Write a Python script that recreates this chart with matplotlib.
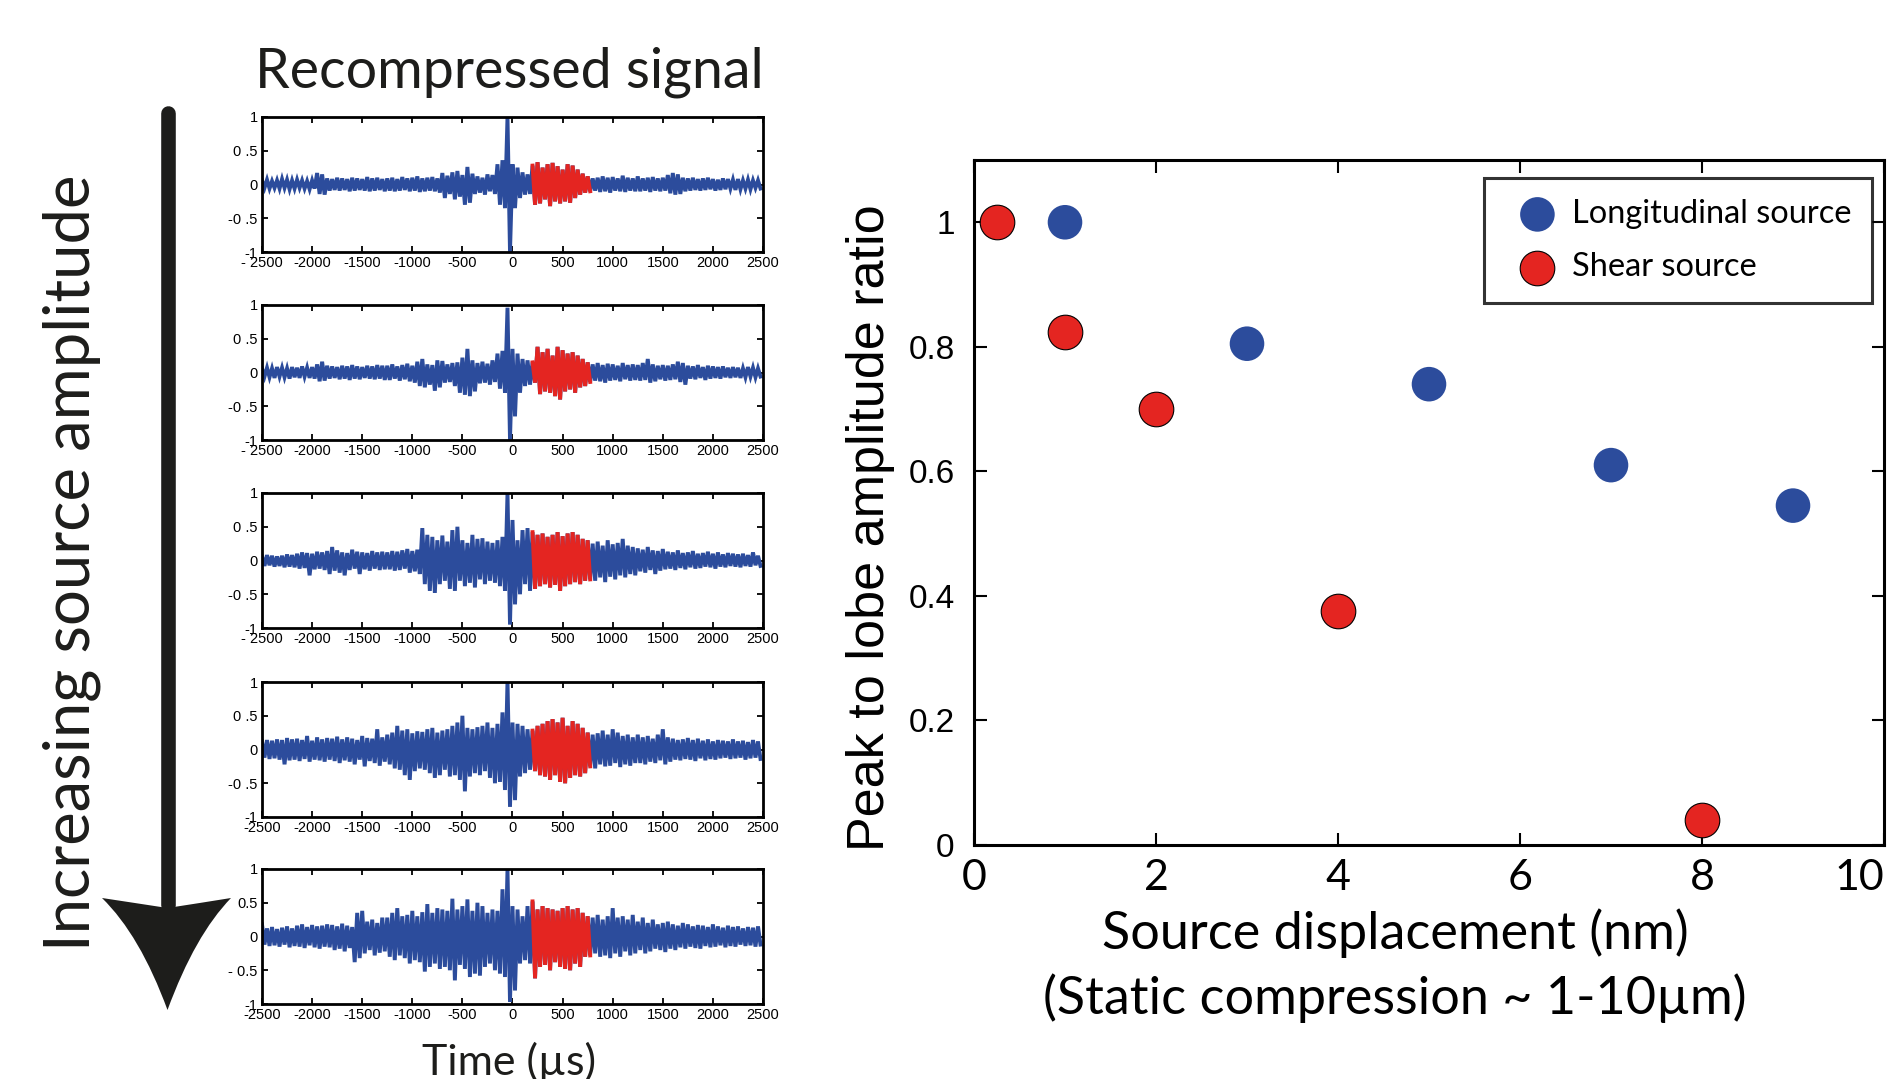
import numpy as np
import matplotlib
matplotlib.use('Agg')
import matplotlib.pyplot as plt
from matplotlib.path import Path
from matplotlib.patches import PathPatch
from matplotlib.lines import Line2D

# ---------------------------------------------------------------
# Recompressed traces: positive / negative peaks every 50 us
# (hundredths of normalised amplitude), from -2500 us to 2450 us
# ---------------------------------------------------------------
t_start = -2500
t_step = 50
lobe_window = (200, 800)   # side lobe window shown in red (us)

trace1_upper = [6, 7, 5, 6, 8, 7, 6, 7, 6, 5, 6, 17, 15, 9, 8, 10, 9, 8, 10, 9, 8, 11, 9, 10, 8,
                9, 10, 8, 11, 9, 10, 12, 9, 10, 11, 9, 17, 13, 18, 20, 14, 26, 16, 12, 10, 15, 14, 30, 36, 100,
                30, 25, 18, 15, 28, 33, 25, 30, 32, 27, 22, 30, 28, 22, 16, 12, 9, 10, 12, 10, 11, 9, 13, 10, 9,
                12, 9, 10, 11, 9, 10, 14, 17, 15, 10, 9, 10, 8, 9, 10, 8, 7, 9, 8, 7, 8, 6, 7, 6, 6]
trace1_lower = [-5, -6, -5, -6, -5, -7, -6, -5, -6, -7, -6, -14, -15, -9, -8, -9, -8, -10, -9, -8, -9, -10, -9, -8, -10,
                -9, -10, -9, -8, -10, -9, -11, -10, -9, -10, -12, -20, -14, -22, -18, -30, -27, -14, -12, -15, -10, -14, -30, -35, -100,
                -35, -20, -15, -14, -30, -28, -22, -32, -25, -28, -25, -27, -20, -15, -12, -10, -9, -11, -10, -12, -9, -10, -11, -9, -10,
                -10, -9, -11, -9, -10, -9, -13, -15, -14, -10, -9, -8, -9, -8, -7, -9, -8, -7, -6, -8, -7, -6, -7, -5, -6]

trace2_upper = [6, 7, 6, 8, 7, 6, 8, 7, 9, 7, 8, 12, 16, 10, 9, 8, 10, 9, 11, 9, 8, 10, 9, 11, 10,
                10, 12, 9, 11, 13, 10, 16, 20, 12, 11, 18, 17, 12, 14, 15, 22, 35, 18, 14, 16, 13, 18, 28, 32, 96,
                35, 28, 20, 18, 15, 38, 30, 35, 25, 38, 33, 28, 30, 25, 20, 15, 12, 14, 11, 13, 12, 10, 14, 11, 12,
                11, 14, 20, 12, 10, 11, 10, 12, 16, 14, 10, 9, 11, 8, 10, 9, 8, 9, 7, 8, 7, 6, 8, 7, 6]
trace2_lower = [-6, -7, -8, -6, -7, -9, -7, -8, -6, -8, -9, -13, -12, -9, -8, -10, -9, -11, -9, -10, -8, -9, -10, -9, -11,
                -11, -9, -12, -10, -13, -15, -20, -22, -18, -27, -22, -15, -14, -20, -30, -33, -35, -28, -16, -15, -18, -14, -24, -30, -100,
                -65, -30, -20, -18, -15, -32, -28, -30, -35, -40, -28, -25, -30, -22, -20, -14, -12, -13, -15, -12, -11, -13, -10, -12, -11,
                -12, -11, -15, -13, -10, -12, -11, -10, -14, -18, -9, -10, -8, -11, -9, -8, -9, -7, -8, -7, -8, -7, -6, -7, -6]

trace3_upper = [6, 8, 7, 6, 7, 9, 8, 10, 12, 11, 10, 13, 12, 14, 20, 15, 12, 11, 16, 13, 12, 11, 14, 12, 13,
                12, 14, 13, 15, 17, 14, 16, 48, 38, 35, 30, 37, 28, 45, 50, 30, 26, 38, 32, 33, 28, 26, 30, 35, 100,
                60, 30, 45, 48, 42, 38, 40, 35, 38, 42, 36, 40, 42, 38, 32, 30, 25, 28, 22, 30, 24, 26, 32, 22, 20,
                18, 16, 20, 15, 14, 17, 13, 12, 15, 11, 12, 14, 10, 11, 13, 10, 12, 9, 11, 10, 9, 10, 8, 12, 7]
trace3_lower = [-8, -7, -9, -8, -10, -9, -10, -12, -11, -22, -13, -12, -14, -20, -15, -18, -22, -14, -12, -20, -13, -15, -12, -14, -13,
                -13, -15, -14, -12, -18, -16, -20, -35, -45, -48, -35, -30, -42, -45, -30, -38, -33, -40, -28, -35, -30, -33, -38, -45, -95,
                -65, -50, -35, -45, -42, -38, -35, -40, -36, -45, -38, -35, -32, -35, -30, -28, -30, -25, -32, -24, -28, -22, -25, -20, -22,
                -16, -18, -14, -20, -15, -13, -12, -14, -11, -13, -10, -12, -11, -9, -10, -12, -9, -10, -8, -9, -10, -8, -9, -7, -8]

trace4_upper = [12, 14, 13, 15, 14, 17, 15, 16, 14, 20, 13, 18, 15, 17, 16, 19, 15, 18, 16, 14, 20, 17, 16, 30, 18,
                22, 25, 35, 28, 30, 24, 27, 26, 30, 32, 25, 28, 30, 35, 40, 50, 32, 30, 33, 35, 40, 32, 38, 55, 102,
                40, 38, 35, 30, 28, 35, 38, 42, 45, 40, 47, 35, 42, 38, 32, 25, 22, 24, 28, 22, 30, 25, 20, 22, 18,
                22, 18, 20, 16, 22, 30, 18, 16, 14, 15, 17, 14, 16, 13, 15, 12, 14, 13, 12, 15, 12, 13, 11, 14, 12]
trace4_lower = [-12, -14, -13, -15, -22, -16, -15, -17, -14, -18, -15, -16, -18, -15, -17, -20, -16, -18, -22, -15, -25, -17, -20, -24, -18,
                -22, -28, -30, -38, -45, -32, -28, -30, -35, -42, -38, -30, -40, -38, -45, -62, -40, -35, -38, -32, -42, -50, -48, -60, -85,
                -75, -40, -35, -30, -32, -38, -40, -45, -38, -48, -50, -42, -38, -40, -35, -25, -28, -22, -25, -24, -20, -26, -22, -24, -20,
                -20, -22, -18, -20, -16, -22, -18, -15, -16, -14, -15, -17, -13, -16, -14, -15, -13, -12, -14, -13, -12, -15, -13, -12, -14]

trace5_upper = [18, 12, 14, 11, 13, 15, 12, 16, 18, 14, 17, 15, 16, 18, 17, 15, 19, 16, 14, 35, 38, 22, 25, 20, 28,
                28, 35, 42, 30, 32, 38, 30, 36, 48, 35, 42, 40, 38, 56, 40, 45, 55, 38, 50, 45, 35, 40, 38, 70, 100,
                45, 40, 30, 45, 52, 40, 45, 42, 40, 38, 42, 45, 40, 42, 35, 30, 28, 32, 25, 30, 42, 28, 30, 25, 32,
                22, 28, 20, 25, 18, 20, 22, 18, 16, 20, 18, 15, 17, 16, 14, 18, 15, 13, 16, 14, 15, 12, 14, 13, 15]
trace5_lower = [-12, -14, -13, -15, -12, -16, -14, -15, -17, -13, -16, -18, -15, -16, -20, -18, -22, -17, -38, -32, -25, -20, -28, -24, -22,
                -30, -35, -28, -32, -40, -35, -38, -52, -45, -40, -48, -45, -50, -65, -42, -48, -60, -55, -58, -45, -40, -50, -55, -60, -97,
                -80, -40, -35, -40, -62, -45, -42, -50, -38, -45, -48, -50, -40, -45, -30, -28, -25, -30, -28, -32, -25, -30, -22, -28, -25,
                -20, -25, -22, -18, -20, -23, -18, -20, -16, -18, -15, -17, -18, -14, -16, -15, -13, -16, -14, -15, -12, -14, -13, -15, -12]

traces = [(trace1_upper, trace1_lower), (trace2_upper, trace2_lower),
          (trace3_upper, trace3_lower), (trace4_upper, trace4_lower),
          (trace5_upper, trace5_lower)]

time_ticks = [-2500, -2000, -1500, -1000, -500, 0, 500, 1000, 1500, 2000, 2500]
time_ticklabels = [["- 2500"] + [str(v) for v in time_ticks[1:]]] * 3 + \
                  [[str(v) for v in time_ticks]] * 2
amp_ticks = [-1, -0.5, 0, 0.5, 1]
amp_ticklabels = [["-1", "-0 .5", "0", "0 .5", "1"]] * 4 + [["-1", "- 0.5", "0", "0.5", "1"]]

# ---------------------------------------------------------------
# Peak to lobe amplitude ratio vs source displacement
# ---------------------------------------------------------------
long_disp = [1, 3, 5, 7, 9]
long_ratio = [1.0, 0.805, 0.74, 0.61, 0.545]
shear_disp = [0.25, 1, 2, 4, 8]
shear_ratio = [1.0, 0.823, 0.70, 0.375, 0.04]

BLUE = '#2c4c9c'
RED = '#e42521'
INK = '#1d1d1b'
arial = ['Liberation Sans', 'DejaVu Sans']
myriad = ['Lato', 'DejaVu Sans']

W, H = 1890, 1079
fig = plt.figure(figsize=(W / 100, H / 100), dpi=100)


def fig_box(left, top, right, bottom):
    """pixel box -> figure fraction [x0, y0, w, h]"""
    return [left / W, 1 - bottom / H, (right - left) / W, (bottom - top) / H]


def draw_trace(ax, t_top, up, lo, color):
    """zig-zag through the positive and negative peaks"""
    t = np.ravel(np.column_stack([t_top, t_top + t_step / 2]))
    y = np.ravel(np.column_stack([up, lo]))
    ax.plot(t, y, color=color, lw=2.8, solid_joinstyle='miter')


# overlay in pixel coordinates for the arrow and free text
over = fig.add_axes([0, 0, 1, 1], zorder=-1)
over.set_xlim(0, W)
over.set_ylim(H, 0)
over.axis('off')

##########
# Trace panels
trace_tops = [117, 305, 493, 682, 869]
for k, (up, lo) in enumerate(traces):
    ax = fig.add_axes(fig_box(262, trace_tops[k], 763, trace_tops[k] + 135))
    up = np.array(up) / 100.0
    lo = np.array(lo) / 100.0
    t_top = t_start + t_step * np.arange(len(up))
    draw_trace(ax, t_top, up, lo, BLUE)
    sel = (t_top >= lobe_window[0]) & (t_top < lobe_window[1])
    draw_trace(ax, t_top[sel], up[sel], lo[sel], RED)

    ax.set_xlim(-2500, 2500)
    ax.set_ylim(-1, 1)
    ax.set_xticks(time_ticks)
    ax.set_xticklabels(time_ticklabels[k], family=arial, fontsize=10.5)
    ax.set_yticks(amp_ticks)
    ax.set_yticklabels(amp_ticklabels[k], family=arial, fontsize=10.5)
    ax.tick_params(direction='in', length=4, width=1.3, top=True, right=True, pad=3)
    for s in ax.spines.values():
        s.set_linewidth(2.0)

##########
# Scatter panel
ax = fig.add_axes(fig_box(974, 160, 1884, 845))
ax.scatter(long_disp, long_ratio, s=620, color=BLUE, edgecolor='none',
           zorder=3, label='Longitudinal source')
ax.scatter(shear_disp, shear_ratio, s=620, color=RED, edgecolor='k',
           linewidth=0.8, zorder=3, label='Shear source')
ax.set_xlim(0, 10)
ax.set_ylim(0, 1.1)
ax.set_xticks([0, 2, 4, 6, 8, 10])
ax.set_xticklabels(['0', '2', '4', '6', '8', '10'], family=myriad, fontsize=31)
ax.get_xticklabels()[-1].set_horizontalalignment('right')
ax.set_yticks([0, 0.2, 0.4, 0.6, 0.8, 1.0])
ax.set_yticklabels(['0', '0.2', '0.4', '0.6', '0.8', '1'], family=arial, fontsize=24)
ax.tick_params(direction='in', length=9, width=1.5, top=True, right=True)
ax.tick_params(axis='y', pad=14)
ax.tick_params(axis='x', pad=10)
for s in ax.spines.values():
    s.set_linewidth(2.2)
ax.set_ylabel('Peak to lobe amplitude ratio', family=arial, fontsize=37.5, va='center')
ax.yaxis.set_label_coords(-0.114, 0.463)
ax.set_xlabel('Source displacement (nm)\n(Static compression ~ 1-10\u00b5m)',
              family=myriad, fontsize=37.5, linespacing=1.38, va='center')
ax.xaxis.set_label_coords(0.4626, -0.1766)

leg = ax.legend(loc='upper right', bbox_to_anchor=(0.987, 0.974), frameon=True,
                fancybox=False, prop={'family': myriad, 'size': 23.4},
                borderpad=0.65, labelspacing=0.72, handletextpad=0.05,
                borderaxespad=0, markerscale=1.0)
leg.get_frame().set_edgecolor('k')
leg.get_frame().set_linewidth(2.2)

##########
# Arrow and free text
over.add_line(Line2D([167.5, 167.5], [113, 905], lw=10.5, color=INK,
                     solid_capstyle='round'))
head = Path([(102, 898), (140, 935), (167.5, 1010), (195, 935), (231, 898),
             (200, 903), (167.5, 908), (135, 903), (102, 898)],
            [Path.MOVETO, Path.CURVE3, Path.CURVE3, Path.CURVE3, Path.CURVE3,
             Path.CURVE3, Path.CURVE3, Path.CURVE3, Path.CURVE3])
over.add_patch(PathPatch(head, facecolor=INK, edgecolor='none'))

over.text(72, 563, 'Increasing source amplitude', rotation=90, ha='center',
          va='center', family=myriad, fontsize=45.6, color=INK)
over.text(509, 72, 'Recompressed signal', ha='center', va='center',
          family=myriad, fontsize=40, color=INK)
over.text(509, 1062, 'Time (\u00b5s)', ha='center', va='center',
          family=myriad, fontsize=31, color=INK)

fig.savefig('out.png', dpi=100)
